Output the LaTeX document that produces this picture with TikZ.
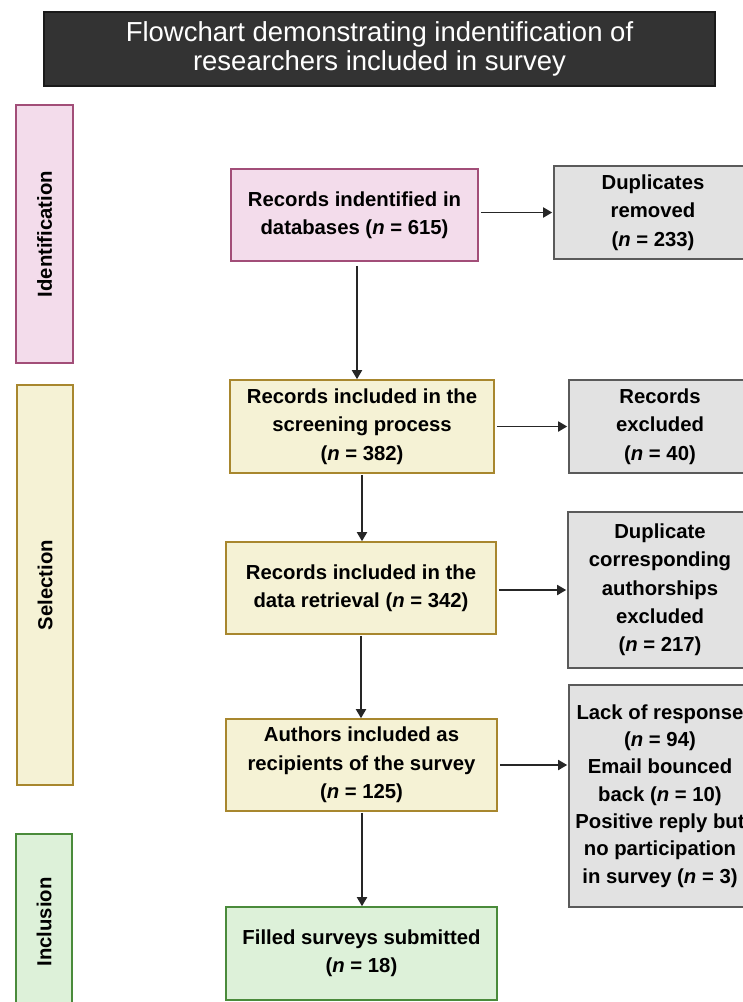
\documentclass[tikz,border=0pt]{standalone}
\usepackage{fontspec}
\setmainfont{Liberation Sans}
\usetikzlibrary{arrows.meta}
\definecolor{titlefill}{HTML}{333333}
\definecolor{titledraw}{HTML}{1A1A1A}
\definecolor{pinkfill}{HTML}{F3DCEB}
\definecolor{pinkdraw}{HTML}{A24E78}
\definecolor{yelfill}{HTML}{F5F2D5}
\definecolor{yeldraw}{HTML}{A8872E}
\definecolor{grnfill}{HTML}{DDF1D9}
\definecolor{grndraw}{HTML}{4A8B3B}
\definecolor{grayfill}{HTML}{E2E2E2}
\definecolor{graydraw}{HTML}{5A5A5A}
\tikzset{
  box/.style={draw, line width=1.6pt, inner sep=0pt, align=center,
    font=\fontsize{20.3}{28.3}\selectfont\bfseries, text=black},
  pinkbox/.style={box, fill=pinkfill, draw=pinkdraw},
  yelbox/.style={box, fill=yelfill, draw=yeldraw},
  grnbox/.style={box, fill=grnfill, draw=grndraw},
  graybox/.style={box, fill=grayfill, draw=graydraw},
  phase/.style={box, rotate=90},
  conn/.style={line width=1.8pt, draw=black!85, -{Triangle[length=9pt,width=10pt]}},
}
\begin{document}
\begin{tikzpicture}[x=1pt,y=-1pt]
\useasboundingbox (0,0) rectangle (743,1002);
\clip (0,0) rectangle (743,1002);
% title
\node[draw=titledraw, fill=titlefill, line width=1.6pt, text=white, align=center,
  font=\fontsize{27.5}{29.5}\selectfont, minimum width=671pt, minimum height=74pt, inner sep=0pt]
  (title) at (379.5,49) {Flowchart demonstrating indentification of\\researchers included in survey};
% phase labels
\node[phase, fill=pinkfill, draw=pinkdraw, minimum width=258pt, minimum height=57pt] (idl) at (44.5,234) {Identification};
\node[phase, fill=yelfill, draw=yeldraw, minimum width=400pt, minimum height=56pt] (sell) at (45,585) {Selection};
\node[phase, fill=grnfill, draw=grndraw, minimum width=176pt, minimum height=56pt] (incl) at (44,922) {Inclusion};
% main column
\node[pinkbox, minimum width=247pt, minimum height=92pt] (ident) at (354.5,215) {Records indentified in\\databases (\textit{n} = 615)};
\node[yelbox, minimum width=264pt, minimum height=93pt] (screen) at (362,426.5) {Records included in the\\screening process\\(\textit{n} = 382)};
\node[yelbox, minimum width=270pt, minimum height=92pt] (retr) at (361,588) {Records included in the\\data retrieval (\textit{n} = 342)};
\node[yelbox, minimum width=271pt, minimum height=92pt] (auth) at (361.5,765) {Authors included as\\recipients of the survey\\(\textit{n} = 125)};
\node[grnbox, minimum width=271pt, minimum height=93pt] (filled) at (361.5,953.5) {Filled surveys submitted\\(\textit{n} = 18)};
% right column
\node[graybox, minimum width=198pt, minimum height=93pt] (dup) at (653,212.5) {Duplicates\\removed\\(\textit{n} = 233)};
\node[graybox, minimum width=182pt, minimum height=93pt] (excl) at (660,426.5) {Records\\excluded\\(\textit{n} = 40)};
\node[graybox, minimum width=184pt, minimum height=156pt] (dupc) at (660,590) {Duplicate\\corresponding\\authorships\\excluded\\(\textit{n} = 217)};
\node[graybox, minimum width=182pt, minimum height=222pt, font=\fontsize{20.3}{27.3}\selectfont\bfseries] (lack) at (660,796) {Lack of response\\(\textit{n} = 94)\\Email bounced\\back (\textit{n} = 10)\\Positive reply but\\no participation\\in survey (\textit{n} = 3)};
% vertical connectors
\draw[conn, shorten <=4pt] ([xshift=2.5pt]ident.south) -- ([xshift=2.5pt]ident.south |- screen.north);
\draw[conn, shorten <=1pt] (screen.south) -- (screen.south |- retr.north);
\draw[conn, shorten <=1pt] (retr.south) -- (retr.south |- auth.north);
\draw[conn, shorten <=1pt] ([xshift=0.5pt]auth.south) -- ([xshift=0.5pt]auth.south |- filled.north);
% horizontal connectors
\draw[conn, shorten <=2pt, shorten >=1pt] (ident.east |- dup.west) -- (dup.west);
\draw[conn, shorten <=2pt, shorten >=1pt] (screen.east) -- (screen.east -| excl.west);
\draw[conn, shorten <=2pt, shorten >=1pt] (retr.east |- dupc.west) -- (dupc.west);
\draw[conn, shorten <=2pt, shorten >=1pt] (auth.east) -- (auth.east -| lack.west);
\end{tikzpicture}
\end{document}
